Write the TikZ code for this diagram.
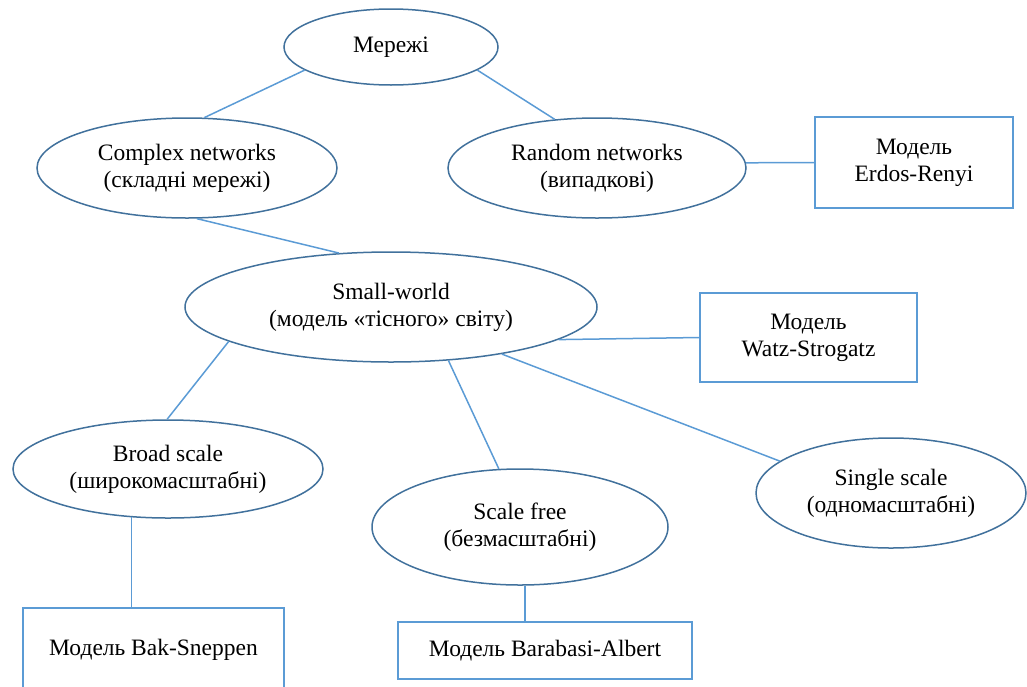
\documentclass[tikz,border=0pt]{standalone}
\usepackage{fontspec}
\setmainfont{Liberation Serif}
\usetikzlibrary{shapes.geometric}
\definecolor{ovalline}{HTML}{41719C}
\definecolor{linkblue}{HTML}{5B9BD5}
\begin{document}
\begin{tikzpicture}[x=1pt,y=-1pt,
  every node/.style={font=\fontsize{23.5}{27}\selectfont, align=center, inner sep=0pt},
  oval/.style={ellipse, draw=ovalline, line width=1.5pt, fill=white},
  modelbox/.style={rectangle, draw=linkblue, line width=1.5pt},
  link/.style={draw=linkblue, line width=1.5pt}]
\useasboundingbox (0,0) rectangle (1027,686);

% ellipses
\node[oval, minimum width=214pt, minimum height=76pt] (mer) at (391,47) {Мережі};
\node[oval, minimum width=300pt, minimum height=100pt] (cplx) at (187,168) {Complex networks\\(складні мережі)};
\node[oval, minimum width=298pt, minimum height=100pt] (rand) at (597,168) {Random networks\\(випадкові)};
\node[oval, minimum width=412pt, minimum height=110pt] (small) at (391,307) {Small-world\\(модель «тісного» світу)};
\node[oval, minimum width=310pt, minimum height=98pt] (broad) at (168,469) {Broad scale\\(широкомасштабні)};
\node[oval, minimum width=296pt, minimum height=116pt] (sfree) at (520,527) {Scale free\\(безмасштабні)};
\node[oval, minimum width=270pt, minimum height=110pt] (single) at (891,493) {Single scale\\(одномасштабні)};

% model boxes
\node[modelbox, minimum width=198pt, minimum height=91pt] (erdos) at (914,162.5) {Модель\\Erdos-Renyi};
\node[modelbox, minimum width=217pt, minimum height=89pt] (watz) at (808.5,337.5) {Модель\\Watz-Strogatz};
\node[modelbox, minimum width=261pt, minimum height=84pt] (bak) at (153.5,650) {Модель Bak-Sneppen};
\node[modelbox, minimum width=294pt, minimum height=57pt] (bar) at (545,650.5) {Модель Barabasi-Albert};

% connectors
\draw[link] (mer.195) -- (cplx.71);
\draw[link] (mer.-15.4) -- (rand.131.3);
\draw[link] (cplx.-79) -- (small.134);
\draw[link] (rand.2) -- (erdos.west);
\draw[link] (small.-11.2) -- (watz.west);
\draw[link] (small.192.8) -- (broad.91);
\draw[link] (small.-43.5) -- (sfree.110.8);
\draw[link] (small.-23.8) -- (single.164.4);
\draw[link] (broad.233.7) -- (broad.233.7 |- bak.north);
\draw[link] (sfree.-85) -- (sfree.-85 |- bar.north);
\end{tikzpicture}
\end{document}
